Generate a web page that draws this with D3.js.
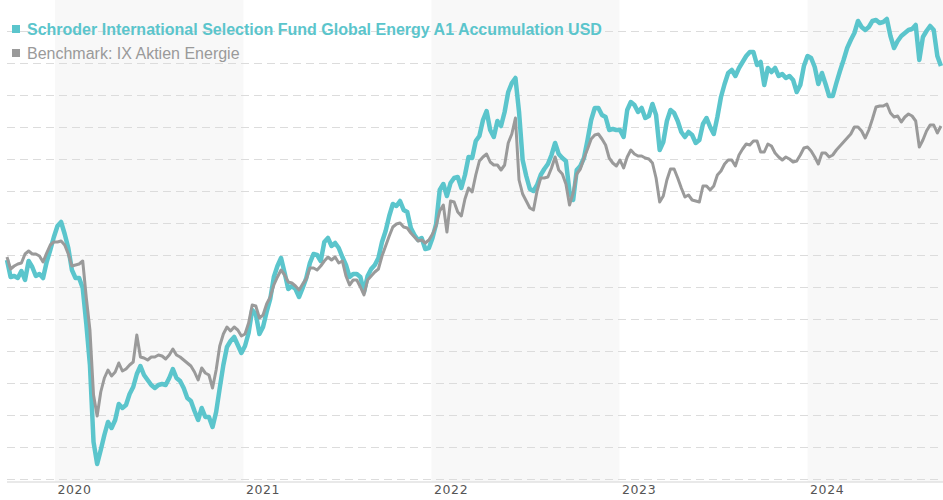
<!DOCTYPE html>
<html>
<head>
<meta charset="utf-8">
<script src="https://cdn.jsdelivr.net/npm/d3@7"></script>
<style>
  body { margin: 0; background: #fff; }
  svg { display: block; font-family: "Liberation Sans", Arial, sans-serif; }
</style>
</head>
<body>
<script>
'use strict';
// weekly closes, first one on firstWeek
const fundName = "Schroder International Selection Fund Global Energy A1 Accumulation USD";
const benchName = "Benchmark: IX Aktien Energie";
const firstWeek = "2019-09-30";
const lastDay = "2024-09-20";
const shadedYears = [2020, 2022, 2024];
const gridValues = d3.range(0, 225, 16);

const fundValues = [
  110,101.5,102,101,104.5,100,109.5,106.5,102,103,
  101,109,115,121.5,127,129,123,116,105,101,
  101,96,78,57.5,19,8,15,22.5,29,26,
  30,38,36,37.5,43,46.5,53,57,52.5,50,
  47.5,46,47.5,48,47.5,51,55.5,51,49.5,46,
  41,39.5,34.5,30,36,31.5,31.5,26.5,34,46,
  57.5,66.5,69.5,71.5,67.5,63.5,67,73.5,85,83,
  73,76.5,84,90.5,101.5,107,111,103.5,95.5,97,
  95.5,91.5,96,101,108.5,113,112.5,109.5,119,121,
  117,118.5,116,111.5,107.5,101.5,103,103,101.5,94,
  102,105.5,107.5,111,119,124.5,132,138,137,139.5,
  135,134,126,122.5,120,121,115.5,116,121,128,
  145,148,142,148.5,151,151.5,146,152.5,161.5,161,
  169.5,172,180,184.5,175,171.5,179.5,177,184,194,
  198.5,201,184,160,152,145.5,144.5,147.5,152.5,155.5,
  158,162.5,168.5,163,161,159.5,144,140,155,157,
  161,170,180,186,186,182.5,181.5,175,175.5,175,
  175,171.5,185,189,187.5,184,186,181,182,188,
  182.5,165,169,179.5,185,183.5,179.5,174,171.5,174,
  172.5,168.5,170,178,181,176.5,173,181.5,191.5,198,
  203.5,205,202,206,209,212,214,214,207.5,209,
  197.5,206,204,206,202,203,201,202,200,194,
  197.5,207,212,211,206.5,198,203.5,198,192,192,
  198.5,204.5,210,216,220,223.5,229.5,226.5,225,226.5,
  229.5,230,228.5,229,230.5,222,216,219.5,222,223.5,
  225,225.5,227.5,210,221.5,224.5,227,225,212,207
];

const benchValues = [
  111.5,105.5,107,108,108.5,113,114.5,113,113,112,
  109,113.5,117.5,119,119,119.5,117.5,113,107,107.5,
  108,109.5,91,75,42.5,32,44,51,55,52,
  54,58.5,54.5,55.5,57.5,59,72.5,61.5,61,60,
  61.5,61.5,62.5,62,60.5,62.5,65.5,62.5,61.5,60,
  58.5,57,54,50,56,53.5,52.5,46,55,67,
  73,76.5,74.5,76.5,75,72,73,78.5,87.5,87,
  81,82.5,88,91.5,97.5,101.5,105,102.5,99,98.5,
  97,95,98,100.5,106,106,105,107,109.5,111.5,
  110,111.5,108.5,109.5,102,97.5,100,100,96.5,92.5,
  100,102,104,105.5,112,117,122,126.5,128,128.5,
  126.5,126,123.5,121.5,119.5,120,118.5,120,123,127,
  134.5,137.5,124,139.5,139,134,132,140.5,146,144,
  152.5,159.5,161.5,163,159,157.5,157.5,155,157.5,168.5,
  173,181,150,143,139.5,136,135,144.5,151,151,
  151.5,156,161.5,155,153,148,137.5,143.5,153,155.5,
  161,165.5,170.5,172.5,173,170.5,167.5,161,158.5,157,
  160,156,161.5,165,163,162,162,161,160.5,158.5,
  151,139,142,150,155.5,155.5,151,146,141.5,142.5,
  140,139.5,139,147,147,145,147,152.5,154.5,158,
  160,160,157,162.5,165.5,168,167.5,169.5,169.5,164,
  164,168,167,163.5,161.5,160,161.5,160.5,159,159.5,
  162.5,166,166.5,164.5,161.5,158,163.5,163.5,161.5,162.5,
  165,167,169,171,173,176.5,176.5,174.5,171,175,
  180.5,186.5,187,187,188,183.5,181.5,182,179,181.5,
  183,182,179.5,166.5,170,174.5,177.5,177.5,173.5,177
];

(function() {
  const width = 943, height = 500;
  const left = 7, axisY = 482;
  const fundColor = "#5bc5cc", benchColor = "#9a9a9a";

  const parse = d3.timeParse("%Y-%m-%d");
  const start = parse(firstWeek);
  const dates = fundValues.map((v, i) => d3.timeWeek.offset(start, i));

  const svg = d3.select('body').append('svg')
    .attr('width', width)
    .attr('height', height);

  const x = d3.scaleTime()
    .domain([start, parse(lastDay)])
    .range([left, width]);

  const y = d3.scaleLinear()
    .domain([0, 240])
    .range([480, 0]);

  // every other year gets a light band
  svg.append('g').selectAll('rect')
    .data(shadedYears)
    .enter().append('rect')
      .attr('x', d => x(new Date(d, 0, 1)))
      .attr('y', 0)
      .attr('width', d => Math.min(x(new Date(d + 1, 0, 1)), width) - x(new Date(d, 0, 1)))
      .attr('height', axisY)
      .attr('fill', '#f8f8f8');

  // dashed grid
  svg.append('g').selectAll('line')
    .data(gridValues)
    .enter().append('line')
      .attr('x1', left)
      .attr('x2', width)
      .attr('y1', d => y(d) - 0.5)
      .attr('y2', d => y(d) - 0.5)
      .attr('stroke', '#dcdcdc')
      .attr('stroke-dasharray', '8,5');

  svg.append('line')
    .attr('x1', left).attr('x2', width)
    .attr('y1', axisY).attr('y2', axisY)
    .attr('stroke', '#e2e2e2')
    .attr('stroke-width', 1.5);

  // year labels
  const xAxis = d3.axisBottom(x)
    .ticks(d3.timeYear.every(1))
    .tickFormat(d3.timeFormat('%Y'))
    .tickSize(0)
    .tickPadding(3);
  const gx = svg.append('g')
    .attr('transform', `translate(0, ${axisY})`)
    .call(xAxis);
  gx.select('.domain').remove();
  gx.selectAll('text')
    .attr('text-anchor', 'start')
    .attr('dx', 2)
    .attr('fill', '#555')
    .style('font-size', '12.5px')
    .style('letter-spacing', '0.6px')
    .style('font-family', '"DejaVu Sans", Verdana, sans-serif');

  const line = d3.line()
    .x((d, i) => x(dates[i]))
    .y(d => y(d));

  svg.append('path')
    .datum(fundValues)
    .attr('d', line)
    .attr('fill', 'none')
    .attr('stroke', fundColor)
    .attr('stroke-width', 4.5)
    .attr('stroke-linejoin', 'round');

  svg.append('path')
    .datum(benchValues)
    .attr('d', line)
    .attr('fill', 'none')
    .attr('stroke', benchColor)
    .attr('stroke-width', 3)
    .attr('stroke-linejoin', 'round');

  // legend
  const legend = [
    { name: fundName, color: fundColor, bold: true },
    { name: benchName, color: benchColor, bold: false }
  ];
  const items = svg.append('g').selectAll('g')
    .data(legend)
    .enter().append('g')
      .attr('transform', (d, i) => `translate(12, ${25 + i * 24})`);
  items.append('rect')
    .attr('width', 8).attr('height', 8)
    .attr('fill', d => d.color);
  items.append('text')
    .attr('x', 15)
    .attr('y', 10)
    .attr('fill', d => d.color)
    .style('font-size', '16px')
    .style('font-weight', d => d.bold ? 'bold' : 'normal')
    .text(d => d.name);
})();
</script>
</body>
</html>
